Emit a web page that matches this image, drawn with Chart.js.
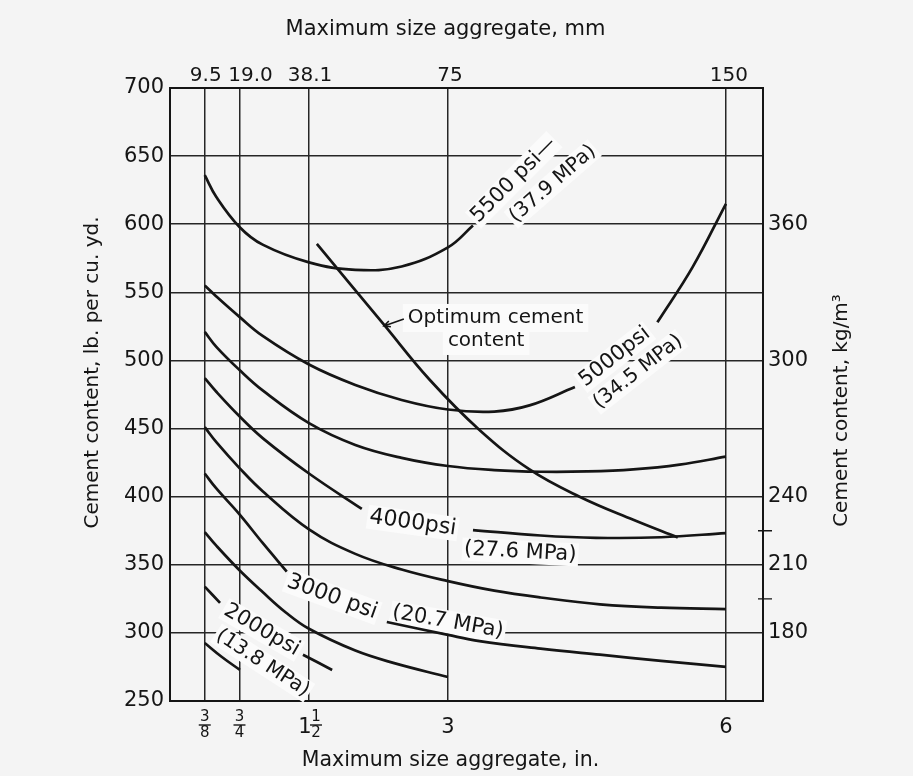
<!DOCTYPE html>
<html>
<head>
<meta charset="utf-8">
<title>Cement content and maximum size aggregate</title>
<script src="https://cdn.jsdelivr.net/npm/chart.js@4.4.1/dist/chart.umd.min.js"></script>
<style>
  html, body { margin: 0; padding: 0; background: #f4f4f4; }
  canvas { display: block; }
</style>
</head>
<body>
<canvas id="cementChart" width="913" height="776"></canvas>
<script>
// aggregate sizes (inches) with the labels used on the bottom (in.) and top (mm) axes
const sizeInches = [0.375, 0.75, 1.5, 3, 6];
const sizeInchLabels = ['3/8', '3/4', '1 1/2', '3', '6'];
const sizeMmLabels = ['9.5', '19.0', '38.1', '75', '150'];

// right hand scale, kg per cubic metre
const kgTicks = [180, 210, 240, 300, 360];
const kgMinorTicks = [195, 225];

// cement content curves: [max size, in. ; cement, lb per cu. yd.]
// a null value leaves a break in the curve where its label sits
const curve5500 = [[0.375, 636], [0.5, 620], [0.75, 598], [1.0, 585], [1.5, 572], [2.0, 566.5], [2.5, 569], [3.0, 583], [3.27, 599]];
const curve5000 = [[0.375, 555], [0.5, 547], [0.75, 532], [1.0, 518], [1.5, 497], [2.0, 482], [2.5, 471], [3.0, 464], [3.5, 462.5], [3.88, 467], [4.37, 480.5], [4.8, null], [5.26, 528], [5.64, 568.5], [6.0, 615]];
const curve4500 = [[0.375, 521], [0.5, 510], [0.75, 493], [1.0, 478], [1.5, 454], [2.0, 438], [2.5, 428.5], [3.0, 422.5], [3.5, 419.5], [4.0, 418.3], [4.5, 418.5], [5.0, 420], [5.5, 423.5], [6.0, 429.4]];
const curve4000 = [[0.375, 487], [0.5, 477], [0.75, 459], [1.0, 443], [1.5, 417], [2.07, 391], [2.6, null], [3.27, 375.5], [4.0, 371.5], [4.6, 369.8], [5.3, 370.2], [6.0, 373.3]];
const curve3500 = [[0.375, 451], [0.5, 440], [0.75, 421], [1.0, 404], [1.5, 376], [2.0, 358], [2.5, 346.5], [3.0, 338], [3.5, 331], [4.0, 326], [4.64, 321], [5.3, 318.5], [6.0, 317.5]];
const curve3000 = [[0.375, 417], [0.5, 406], [0.75, 387], [1.0, 366], [1.26, 345], [1.8, null], [2.34, 308], [3.0, 298.5], [3.34, 294], [4.0, 288.5], [4.64, 284], [5.3, 279.5], [6.0, 275]];
const curve2500 = [[0.375, 374], [0.5, 364], [0.75, 346], [1.0, 330], [1.25, 315], [1.5, 303], [2.0, 287], [2.41, 278], [3.0, 267.6]];
const curve2000 = [[0.375, 334], [0.54, 322], [1.0, null], [1.435, 284], [1.75, 272.8]];
const curveLowest = [[0.375, 292.6], [0.56, 282.3], [0.755, 272.8]];
const optimumLine = [[1.585, 585.5], [2.3, 527], [2.8, 486], [3.34, 449], [3.88, 420], [4.42, 400], [5.0, 383], [5.48, 370]];

const curves = [curve5500, curve5000, curve4500, curve4000, curve3500, curve3000, curve2500, curve2000, curveLowest, optimumLine];

// curve labels, anchored in data units (in., lb per cu. yd.)
const notes = [
  { text: '5500 psi—', x: 3.71, y: 632.5, angle: -45, size: 21 },
  { text: '(37.9 MPa)', x: 4.13, y: 629.6, angle: -41, size: 20 },
  { text: '5000psi', x: 4.80, y: 502.6, angle: -38, size: 21 },
  { text: '(34.5 MPa)', x: 5.05, y: 491.6, angle: -38, size: 20 },
  { text: '4000psi', x: 2.62, y: 380.7, angle: 8, size: 22 },
  { text: '(27.6 MPa)', x: 3.78, y: 359.4, angle: 3, size: 21 },
  { text: '3000 psi', x: 1.75, y: 326.4, angle: 20, size: 22 },
  { text: '(20.7 MPa)', x: 3.0, y: 308.0, angle: 10, size: 21 },
  { text: '2000psi', x: 0.99, y: 302.1, angle: 30, size: 21 },
  { text: '(13.8 MPa)', x: 1.0, y: 277.9, angle: 33, size: 20 },
  { text: 'Optimum cement', x: 2.567, y: 531.2, align: 'left', size: 20, pad: 5 },
  { text: 'content', x: 2.999, y: 514.3, align: 'left', size: 20, pad: 5 }
];
const arrowTail = [2.524, 530.5];
const arrowTip = [2.309, 525.3];

const ink = '#151515';
const paper = '#f4f4f4';
const family = '"DejaVu Sans", sans-serif';
// small sideways shifts so the crowded mm labels do not touch
const mmLabelShift = [1, 11, 1, 2, 3];

Chart.defaults.font.family = family;
Chart.defaults.color = ink;

function withNote(chart, n, draw) {
  const { ctx, scales: { x, y } } = chart;
  ctx.save();
  ctx.translate(x.getPixelForValue(n.x), y.getPixelForValue(n.y));
  ctx.rotate((n.angle || 0) * Math.PI / 180);
  ctx.font = `${n.size}px ${family}`;
  ctx.textAlign = n.align || 'center';
  ctx.textBaseline = 'middle';
  const w = ctx.measureText(n.text).width;
  draw(ctx, w, n.pad ?? 2);
  ctx.restore();
}

function drawFraction(ctx, cx, top, num, den) {
  ctx.font = `15px ${family}`;
  ctx.textAlign = 'center';
  ctx.textBaseline = 'middle';
  ctx.fillText(num, cx, top + 16);
  ctx.fillText(den, cx, top + 32);
  ctx.beginPath();
  ctx.moveTo(cx - 6, top + 24);
  ctx.lineTo(cx + 6, top + 24);
  ctx.lineWidth = 1.4;
  ctx.strokeStyle = ink;
  ctx.stroke();
}

const decor = {
  id: 'decor',
  beforeDraw(chart) {
    const { ctx, width, height } = chart;
    ctx.save();
    ctx.fillStyle = paper;
    ctx.fillRect(0, 0, width, height);
    ctx.restore();
  },
  // clear the grid behind each label
  beforeDatasetsDraw(chart) {
    notes.forEach(n => withNote(chart, n, (ctx, w, pad) => {
      const h = n.size + 2 * pad - 2;
      const x0 = n.align === 'left' ? -pad : -w / 2 - pad;
      ctx.fillStyle = '#fbfbfb';
      ctx.fillRect(x0, -h / 2, w + 2 * pad, h);
    }));
  },
  afterDatasetsDraw(chart) {
    notes.forEach(n => withNote(chart, n, (ctx) => {
      ctx.fillStyle = ink;
      ctx.fillText(n.text, 0, 0);
    }));

    // arrow pointing at the optimum line
    const { ctx, scales: { x, y } } = chart;
    const x1 = x.getPixelForValue(arrowTail[0]), y1 = y.getPixelForValue(arrowTail[1]);
    const x2 = x.getPixelForValue(arrowTip[0]), y2 = y.getPixelForValue(arrowTip[1]);
    const a = Math.atan2(y2 - y1, x2 - x1);
    ctx.save();
    ctx.strokeStyle = ink;
    ctx.lineWidth = 1.6;
    ctx.beginPath();
    ctx.moveTo(x1, y1);
    ctx.lineTo(x2, y2);
    ctx.moveTo(x2 - 7 * Math.cos(a - 0.45), y2 - 7 * Math.sin(a - 0.45));
    ctx.lineTo(x2, y2);
    ctx.lineTo(x2 - 7 * Math.cos(a + 0.45), y2 - 7 * Math.sin(a + 0.45));
    ctx.stroke();
    ctx.restore();
  },
  afterDraw(chart) {
    const { ctx, chartArea: ca, scales } = chart;
    const xs = scales.x;
    ctx.save();
    ctx.fillStyle = ink;

    // top axis labels in mm
    ctx.font = `20px ${family}`;
    ctx.textAlign = 'center';
    ctx.textBaseline = 'middle';
    sizeInches.forEach((v, i) => {
      ctx.fillText(sizeMmLabels[i], scales.x2.getPixelForValue(v) + mmLabelShift[i], ca.top - 12);
    });

    // bottom axis labels, written as fractions
    sizeInches.forEach((v, i) => {
      const px = xs.getPixelForValue(v);
      const lab = sizeInchLabels[i];
      if (lab.includes(' ')) {
        const [whole, frac] = lab.split(' ');
        const [num, den] = frac.split('/');
        ctx.font = `21px ${family}`;
        ctx.textAlign = 'center';
        ctx.textBaseline = 'middle';
        ctx.fillText(whole, px - 4, ca.bottom + 27);
        drawFraction(ctx, px + 7, ca.bottom, num, den);
      } else if (lab.includes('/')) {
        const [num, den] = lab.split('/');
        drawFraction(ctx, px, ca.bottom, num, den);
      } else {
        ctx.font = `21px ${family}`;
        ctx.textAlign = 'center';
        ctx.textBaseline = 'middle';
        ctx.fillText(lab, px, ca.bottom + 27);
      }
    });

    // axis titles
    const midX = (ca.left + ca.right) / 2;
    const midY = (ca.top + ca.bottom) / 2;
    ctx.textAlign = 'center';
    ctx.textBaseline = 'middle';
    ctx.font = `21px ${family}`;
    ctx.fillText('Maximum size aggregate, mm', midX - 21, ca.top - 58);
    ctx.font = `20.5px ${family}`;
    ctx.fillText('Maximum size aggregate, in.', midX - 16, ca.bottom + 60);

    ctx.font = `20px ${family}`;
    ctx.save();
    ctx.translate(ca.left - 77, midY - 22);
    ctx.rotate(-Math.PI / 2);
    ctx.fillText('Cement content, lb. per cu. yd.', 0, 0);
    ctx.restore();
    ctx.save();
    ctx.translate(ca.right + 79, midY + 16);
    ctx.rotate(-Math.PI / 2);
    ctx.fillText('Cement content, kg/m³', 0, 0);
    ctx.restore();

    // unlabelled ticks on the kg/m3 axis
    ctx.strokeStyle = ink;
    ctx.lineWidth = 1.4;
    ctx.beginPath();
    kgMinorTicks.forEach(v => {
      const py = scales.y2.getPixelForValue(v);
      ctx.moveTo(ca.right - 5, py);
      ctx.lineTo(ca.right + 9, py);
    });
    ctx.stroke();
    ctx.restore();
  }
};

const datasets = curves.map(rows => ({
  data: rows.map(([x, y]) => ({ x, y })),
  borderColor: ink,
  borderWidth: 2.7,
  pointRadius: 0,
  fill: false,
  spanGaps: false,
  tension: 0.4
}));

const gridStyle = { color: '#262626', lineWidth: 1.5, drawTicks: false };
const frame = { display: true, color: ink, width: 2 };

new Chart(document.getElementById('cementChart'), {
  type: 'line',
  data: { datasets },
  options: {
    responsive: false,
    devicePixelRatio: 1,
    animation: false,
    events: [],
    layout: { padding: 0 },
    plugins: { legend: { display: false }, tooltip: { enabled: false } },
    scales: {
      x: {
        type: 'linear', position: 'bottom', min: 0, max: 6.4,
        afterBuildTicks: s => { s.ticks = sizeInches.map(v => ({ value: v })); },
        ticks: { display: false },
        grid: gridStyle,
        border: frame,
        afterFit: s => { s.height = 75; }
      },
      x2: {
        type: 'linear', position: 'top', min: 0, max: 6.4,
        afterBuildTicks: s => { s.ticks = sizeInches.map(v => ({ value: v })); },
        ticks: { display: false },
        grid: { display: false, drawTicks: false },
        border: frame,
        afterFit: s => { s.height = 88; }
      },
      y: {
        type: 'linear', position: 'left', min: 250, max: 700,
        ticks: { stepSize: 50, padding: 6, font: { size: 21 } },
        grid: gridStyle,
        border: frame,
        afterFit: s => { s.width = 170; }
      },
      y2: {
        type: 'linear', position: 'right', min: 150, max: 420,
        afterBuildTicks: s => { s.ticks = kgTicks.map(v => ({ value: v })); },
        ticks: { padding: 5, font: { size: 21 } },
        grid: { display: false, drawTicks: false },
        border: frame,
        afterFit: s => { s.width = 150; }
      }
    }
  },
  plugins: [decor]
});
</script>
</body>
</html>
